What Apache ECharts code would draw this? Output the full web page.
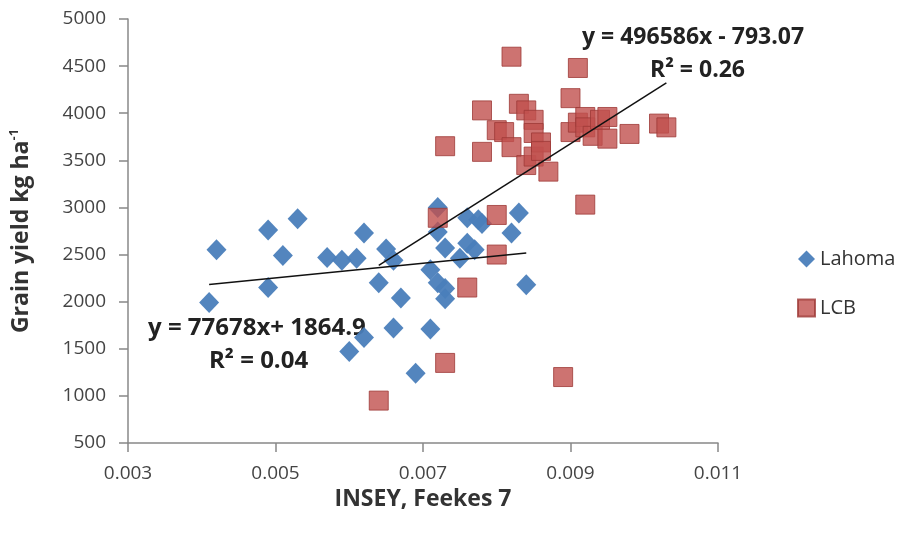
<!DOCTYPE html>
<html><head><meta charset="utf-8">
<script src="https://cdn.jsdelivr.net/npm/echarts@6/dist/echarts.min.js"></script>
<style>html,body{margin:0;padding:0;background:#fff}#c{width:905px;height:533px}</style>
</head><body><div id="c"></div>
<script>
// Lahoma (INSEY, yield)
const lahomaX = [0.0041,0.0042,0.0049,0.0049,0.0051,0.0053,0.0057,0.0059,0.0061,0.0062,0.0065,0.0066,0.0064,0.0067,0.0066,0.0071,0.0062,0.0060,0.0069,0.0071,0.0072,0.0072,0.0073,0.0072,0.0073,0.0073,0.0075,0.0076,0.0077,0.0076,0.00775,0.0078,0.0082,0.0083,0.0084];
const lahomaY = [1990,2550,2760,2150,2490,2880,2470,2440,2460,2730,2560,2440,2200,2040,1720,1710,1620,1470,1240,2340,3000,2740,2570,2200,2140,2030,2460,2620,2550,2890,2870,2830,2730,2940,2180];
// LCB
const lcbX = [0.0073,0.0078,0.0078,0.0080,0.0081,0.0082,0.0082,0.0083,0.0084,0.0084,0.0085,0.0085,0.0085,0.0086,0.0086,0.0087,0.0090,0.0090,0.0091,0.0091,0.0092,0.0092,0.0093,0.0094,0.0095,0.0095,0.0098,0.0102,0.0103,0.0092,0.0072,0.0080,0.0080,0.0076,0.0073,0.0064,0.0089];
const lcbY = [3650,4030,3590,3820,3800,4600,3640,4100,4030,3450,3930,3790,3540,3690,3600,3380,4160,3800,4480,3900,3960,3850,3760,3930,3960,3730,3780,3890,3850,3030,2890,2920,2500,2150,1350,950,1200];
// Trendline coefficients [slope, intercept]
const lahomaFit = [77678, 1864.9];
const lcbFit = [496586, -793.07];
const xTicks = [0.003,0.005,0.007,0.009,0.011];
const yTicks = [500,1000,1500,2000,2500,3000,3500,4000,4500,5000];

const zip = (a,b)=>a.map((v,i)=>[v,b[i]]);
const fitLine = (xs, f) => { const lo=Math.min(...xs), hi=Math.max(...xs); return [[lo,f[0]*lo+f[1]],[hi,f[0]*hi+f[1]]]; };
const FONT = '"Open Sans", "Liberation Sans", sans-serif';

const chart = echarts.init(document.getElementById('c'), null, {renderer:'canvas'});
chart.setOption({
  animation:false,
  backgroundColor:'#fff',
  textStyle:{fontFamily:FONT},
  grid:{left:127,right:187,top:19,bottom:90},
  xAxis:{type:'value',min:xTicks[0],max:xTicks[xTicks.length-1],
    name:'INSEY, Feekes 7',nameLocation:'middle',nameGap:42,
    nameTextStyle:{fontFamily:FONT,fontSize:23,fontWeight:'bold',color:'#333'},
    splitLine:{show:false},
    axisLine:{lineStyle:{color:'#888',width:1.5}},
    axisTick:{show:true,length:9,customValues:xTicks,lineStyle:{color:'#888',width:1.5}},
    axisLabel:{customValues:xTicks,fontSize:19,color:'#444',margin:21,formatter:v=>v.toFixed(3)}
  },
  yAxis:{type:'value',min:yTicks[0],max:yTicks[yTicks.length-1],interval:500,
    name:'{a|Grain yield kg ha}{s|-1}',nameLocation:'middle',nameGap:94,
    nameTextStyle:{fontFamily:FONT,color:'#333',rich:{a:{fontSize:23,fontWeight:'bold',color:'#333',fontFamily:FONT},s:{fontSize:13,fontWeight:'bold',color:'#333',verticalAlign:'top',padding:[0,0,13,0],fontFamily:FONT}}},
    splitLine:{show:false},
    axisLine:{show:true,lineStyle:{color:'#888',width:1.5}},
    axisTick:{show:true,length:9,lineStyle:{color:'#888',width:1.5}},
    axisLabel:{fontSize:19,color:'#444',margin:22,formatter:v=>String(v)}
  },
  legend:{orient:'vertical',left:792,top:244,itemGap:29,itemWidth:17,itemHeight:17,
    textStyle:{fontSize:20,color:'#333',fontFamily:FONT},
    data:['Lahoma','LCB']},
  graphic:[
    {type:'text',left:582,top:26,style:{text:'y = 496586x - 793.07',font:'bold 23px '+FONT,fill:'#222'}},
    {type:'text',left:650,top:59,style:{text:'R² = 0.26',font:'bold 23px '+FONT,fill:'#222'}},
    {type:'text',left:148,top:316,style:{text:'y = 77678x+ 1864.9',font:'bold 24px '+FONT,fill:'#222'}},
    {type:'text',left:209,top:349,style:{text:'R² = 0.04',font:'bold 24px '+FONT,fill:'#222'}}
  ],
  series:[
    {name:'Lahoma',type:'scatter',symbol:'diamond',symbolSize:[20,21],data:zip(lahomaX,lahomaY),
      itemStyle:{color:'#4A7EBB',opacity:0.95},z:3},
    {name:'LCB',type:'scatter',symbol:'rect',symbolSize:19,data:zip(lcbX,lcbY),
      itemStyle:{color:'#C0504D',borderColor:'#9E3A37',borderWidth:1},z:4},
    {name:'LahomaFit',type:'line',data:fitLine(lahomaX,lahomaFit),showSymbol:false,
      lineStyle:{color:'#111',width:1.5},z:5,silent:true},
    {name:'LCBFit',type:'line',data:fitLine(lcbX,lcbFit),showSymbol:false,
      lineStyle:{color:'#111',width:1.5},z:5,silent:true}
  ]
});
</script></body></html>
